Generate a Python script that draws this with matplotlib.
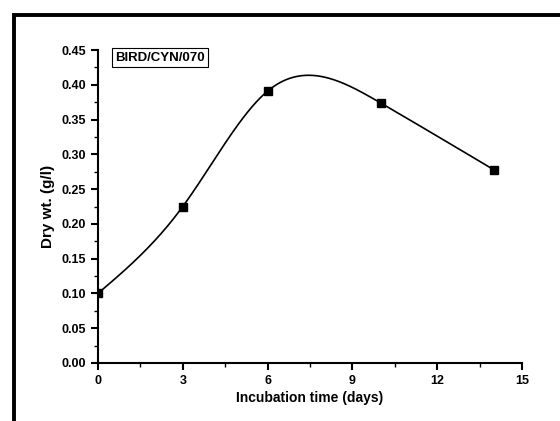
import numpy as np
import matplotlib
matplotlib.use("Agg")
from matplotlib import pyplot as plt
from matplotlib.patches import Rectangle

# data
days = np.array([0, 3, 6, 10, 14])
dry_wt = np.array([0.100, 0.225, 0.391, 0.374, 0.278])
label_text = "BIRD/CYN/070"


def natural_spline(x, y, xs):
    # plain natural cubic spline, no scipy here
    n = len(x)
    h = np.diff(x)
    A = np.zeros((n, n))
    b = np.zeros(n)
    A[0, 0] = 1
    A[-1, -1] = 1
    for i in range(1, n - 1):
        A[i, i - 1] = h[i - 1]
        A[i, i] = 2 * (h[i - 1] + h[i])
        A[i, i + 1] = h[i]
        b[i] = 6 * ((y[i + 1] - y[i]) / h[i] - (y[i] - y[i - 1]) / h[i - 1])
    M = np.linalg.solve(A, b)
    out = np.empty_like(xs)
    for k, xv in enumerate(xs):
        i = min(np.searchsorted(x, xv, side="right") - 1, n - 2)
        t1 = x[i + 1] - xv
        t0 = xv - x[i]
        out[k] = (M[i] * t1**3 + M[i + 1] * t0**3) / (6 * h[i]) \
            + (y[i] / h[i] - M[i] * h[i] / 6) * t1 \
            + (y[i + 1] / h[i] - M[i + 1] * h[i] / 6) * t0
    return out


plt.rcParams['font.family'] = ['Liberation Sans', 'DejaVu Sans']
plt.rcParams['font.weight'] = 'bold'

fig = plt.figure(figsize=(5.6, 4.21), dpi=100)
ax = fig.add_axes([0.175, 0.138, 0.757, 0.743])

xs = np.linspace(days[0], days[-1], 400)
ax.plot(xs, natural_spline(days.astype(float), dry_wt, xs), color='black', lw=1.2)
ax.plot(days, dry_wt, 's', color='black', ms=5.5)

ax.set_xlim(0, 15)
ax.set_ylim(0, 0.45)
ax.set_xticks(np.arange(0, 16, 3))
ax.set_xticks(np.arange(0, 15.1, 1.5), minor=True)
ax.set_yticks(np.arange(0, 0.451, 0.05))
ax.set_yticks(np.arange(0, 0.451, 0.025), minor=True)
ax.set_yticklabels([f"{v:.2f}" for v in np.arange(0, 0.451, 0.05)])

for s in ['top', 'right']:
    ax.spines[s].set_visible(False)
for s in ['left', 'bottom']:
    ax.spines[s].set_linewidth(1.5)
ax.tick_params(which='major', direction='out', length=5, width=1.5, labelsize=9)
ax.tick_params(which='minor', direction='out', length=3, width=1.0)

ax.set_xlabel('Incubation time (days)', fontsize=10, fontweight='bold', labelpad=3)
ax.set_ylabel('Dry wt. (g/l)', fontsize=11, fontweight='bold', labelpad=5)

ax.text(0.04, 0.995, label_text, transform=ax.transAxes, fontsize=9.5,
        fontweight='bold', va='top', ha='left',
        bbox=dict(boxstyle='square,pad=0.25', fc='white', ec='black', lw=0.8))

# outer black frame, only top and left edge visible
fig.add_artist(Rectangle((0.025, -0.1), 1.1, 1.065, transform=fig.transFigure,
                         fill=False, ec='black', lw=2.8))

fig.savefig('out.png', dpi=100)
